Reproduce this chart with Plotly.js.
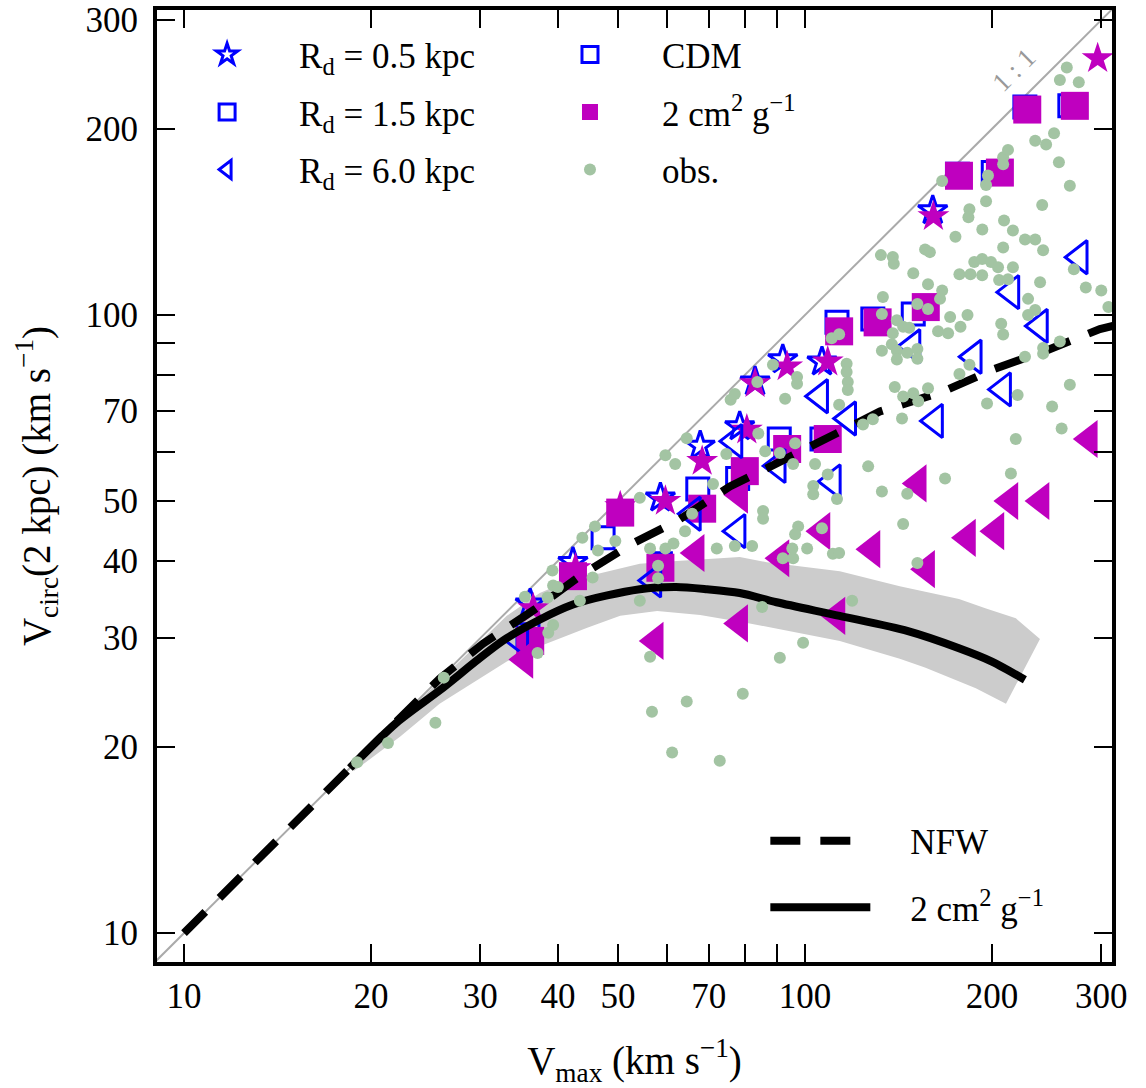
<!DOCTYPE html>
<html><head><meta charset="utf-8">
<script src="https://cdn.plot.ly/plotly-3.0.1.min.js"></script>
<style>html,body{margin:0;padding:0;background:#fff}#chart{width:1146px;height:1088px}</style>
</head><body><div id="chart"></div>
<script>
// ---- ticks ----
const tickVals = [10,20,30,40,50,70,100,200,300];
const tickText = ['10','20','30','40','50','70','100','200','300'];
const minorTickVals = [60,80,90];

// ---- simulations: CDM / SIDM (2 cm^2/g), three disc scale lengths ----
const cdm05Vmax = [36.1, 42.3, 58.5, 67.8, 78.5, 83.1, 92.1, 106.5, 160.6];
const cdm05Vc   = [34.1, 39.8, 50.6, 61.4, 66.0, 78.0, 84.7, 84.0, 147.6];
const sidm05Vmax = [36.5, 42.7, 50.4, 59.6, 68.3, 80.6, 83.1, 93.6, 108.8, 161, 296];
const sidm05Vc   = [33.5, 38.9, 49.0, 50.0, 58.0, 65.2, 77.5, 82.5, 84.0, 144.4, 260];

const cdm15Vmax = [35.8, 42.3, 47.3, 58.5, 67.2, 77.9, 90.9, 106.5, 112.6, 128.6, 149.4, 176, 201, 226, 267];
const cdm15Vc   = [30.4, 37.9, 43.6, 39.6, 52.3, 54.4, 63.0, 63.0, 97.3, 98.5, 100.4, 169, 170, 217, 218];
const sidm15Vmax = [36.1, 42.3, 50.4, 58.5, 68.3, 80.0, 93.6, 108.8, 113.5, 130.9, 156.5, 177, 206, 228, 272];
const sidm15Vc   = [29.7, 37.8, 47.9, 39.0, 48.6, 55.9, 60.7, 63.0, 94.1, 97.3, 103, 168, 170, 215, 218];

const cdm6Vmax = [34.8, 57.0, 66.0, 77.9, 77.0, 90.4, 105.8, 110.9, 117.4, 149, 162, 187, 208.5, 215, 239, 277];
const cdm6Vc   = [29.7, 37.2, 47.7, 44.7, 62.5, 57.0, 73.9, 53.8, 68.0, 89.0, 67.4, 85.6, 75.8, 108.9, 96.0, 124];
const sidm6Vmax = [35.4, 57.4, 66.8, 78.5, 78.5, 91.5, 106.5, 112.6, 128.2, 152.2, 157, 182.7, 203, 213.8, 240, 287];
const sidm6Vc   = [27.7, 29.7, 41.2, 31.7, 51.2, 40.4, 44.7, 32.6, 41.8, 53.4, 38.8, 43.6, 44.7, 50.0, 50.0, 63.0];

// ---- model curves ----
const nfwVmax = [10, 25.8, 30.3, 36.7, 43.4, 52.3, 62.4, 75.7, 91.2, 111.7, 132, 166.2, 202, 246, 298.5, 320];
const nfwVc   = [10, 25.8, 29.4, 33.4, 37.8, 42.5, 46.5, 52.8, 57.9, 64.0, 69.8, 75.1, 81.8, 87.8, 94.9, 96.5];
const sidmVmax = [18.5, 22, 25.8, 33.1, 42.3, 54.2, 62, 69.5, 78.5, 90, 113.7, 146.5, 177, 200, 226];
const sidmVc   = [18.5, 21.9, 24.7, 30.0, 34.0, 36.0, 36.3, 36.0, 35.5, 34.3, 32.6, 30.8, 28.9, 27.5, 25.7];
const bandUpperVmax = [18.5, 22.3, 25.8, 33.1, 37.4, 42.3, 46.8, 54.2, 62.2, 69.5, 78.5, 86.8, 113.8, 142.1, 177, 195.7, 218.6, 239];
const bandUpperVc   = [18.7, 22.2, 25.6, 32.6, 35.5, 37.4, 38.2, 39.6, 40.0, 40.3, 40.6, 39.8, 38.5, 36.4, 34.7, 33.5, 32.3, 29.9];
const bandLowerVmax = [18.8, 22.3, 25.8, 33.1, 37.4, 44.6, 50.4, 57.8, 67.8, 81.5, 113.8, 142.1, 156, 188.4, 210.7];
const bandLowerVc   = [18.3, 20.8, 23.5, 27.5, 29.1, 31.2, 32.6, 33.2, 32.7, 31.7, 29.7, 27.8, 26.9, 24.9, 23.5];
const oneToOne = [9, 320];
const oneLabelPos = [217, 249];

// ---- observations ----
const obsVmax = [19.0,21.3,26.2,25.4,35.4,37.1,38.5,39.2,39.3,40,39.3,38.6,43.4,43.8,45.9,46.4,45.5,49.5,54.2,54.2,
56.3,56.3,56.7,58,58,59.6,61.4,61.1,64.1,64.5,65.8,71.1,72.1,72.9,77.1,79.4,82.2,85.3,91.1,99.3,119.1,
59.6,61.8,64.5,74.7,75.9,77.1,83.8,84.1,86.3,91.1,88.8,92.9,96.4,95.7,97.1,97.1,103.8,108.8,103.1,103.1,112.6,
85.6,85.6,97.5,106.5,96.4,100.8,95.4,95.7,92.1,110.9,113.5,110.4,113.5,113.5,116.7,116.7,117.2,117.2,124,128.6,
126.4,133,146.1,143.9,151.7,133,140.6,143.9,138.5,151.7,157.8,163.8,138,133,140.6,146.1,151.7,151.7,140.6,139.5,
143.9,149.4,152.2,157.8,143.3,132.5,138.5,139,149.4,156.1,158.9,157.8,166.3,165,133.5,166.3,184,183.3,193,174.7,
195.7,197.1,195.7,208.5,208.5,212.3,234.8,244.5,256.4,251.8,264,257.3,276,267,241,209.2,216.2,226.1,234.8,208.5,
241.8,187.3,192.9,199.3,204.6,216.2,177.3,184.7,192.9,205.4,212.3,239.1,271,283.3,300,308,228.7,234.8,228.7,171.3,
182.7,178,207,208.5,147.2,170,257.3,241.8,241.8,226.1,177.3,184,267,220,196.4,250,259,218.5,214.6,168.1];
const obsVc = [18.9,20.3,25.9,21.9,35.0,28.4,34.9,38.6,36.5,36.3,31.5,30.6,34.5,43.6,45.5,41.6,37.6,43.1,50.6,34.5,
41.9,28.0,22.8,39.3,37.5,41.9,42.7,19.6,44.7,23.7,47.7,53.3,41.9,19.0,42.3,24.4,42.3,33.7,27.9,29.5,34.5,
59.3,57.4,63.2,59.6,72.9,74.5,77.9,64.3,60.2,59.8,83.1,73.2,62,57.4,79.4,77.4,57.4,55.2,52.9,51.3,50.4,
48.2,46.8,45.5,45.2,44.2,41.9,41.9,40.4,40.4,41.1,41.2,91.7,93.1,71.6,83.4,80.9,77.9,75.6,66.5,67.8,
56.9,51.8,51.4,45.9,39.7,100.4,98.1,95.7,93.4,104.2,102.3,94.1,89.7,87.5,87.5,86.9,88.1,85,84.7,76.5,
73.8,74.7,72.5,76.1,68,125,124.1,121,116.8,127.7,126.4,112.1,109.6,106.2,106.9,164.7,148.3,143.9,137.5,133.8,
152.8,168.1,162.3,180,175.4,185,191.4,188.7,176.7,196.8,251.4,240,238.1,161.9,150.6,142.2,137,132.5,132.5,128.6,
127.3,121.8,123.2,121.8,119.5,119.5,116.4,116.4,116,113.9,114.3,113,118.6,110.8,109.6,103,106.2,101.9,100,99.3,
100,95.7,96.8,93,95.4,93.4,90.6,88.4,86.6,85.6,80.3,83.1,77.1,74.2,71.9,71.1,65.5,63,55.4,54.4];

// ---- styling ----
const BLUE = '#0000ff', MAG = '#bf00bf', OBS = '#a3c4a3', FONT = 'Liberation Serif, Times New Roman, serif';
const GAP = '\u00a0\u00a0\u00a0\u00a0';

function pts(x, y, name, symbol, color, size, open, legend, extra) {
  const t = {x: x, y: y, type: 'scatter', mode: 'markers', name: name, hoverinfo: 'skip', cliponaxis: true,
    marker: {symbol: symbol, size: size, color: color, line: {color: color, width: open ? 3 : 0}}};
  if (legend) { t.legend = legend; t.legendgroup = name; } else { t.showlegend = false; }
  return Object.assign(t, extra || {});
}

const traces = [
  {x: oneToOne, y: oneToOne, type: 'scatter', mode: 'lines', line: {color: '#aaaaaa', width: 2}, showlegend: false, hoverinfo: 'skip'},
  {x: bandUpperVmax.concat(bandLowerVmax.slice().reverse()), y: bandUpperVc.concat(bandLowerVc.slice().reverse()),
   type: 'scatter', mode: 'lines', fill: 'toself', fillcolor: '#cccccc', line: {width: 0, color: '#cccccc'}, showlegend: false, hoverinfo: 'skip'},
  pts(cdm05Vmax, cdm05Vc, 'R<sub>d</sub> = 0.5 kpc', 'star-open', BLUE, 22, true, 'legend'),
  pts(sidm05Vmax, sidm05Vc, 'sidm05', 'star', MAG, 24, false, null),
  pts(cdm15Vmax, cdm15Vc, 'R<sub>d</sub> = 1.5 kpc', 'square-open', BLUE, 22, true, 'legend'),
  pts(sidm15Vmax, sidm15Vc, 'sidm15', 'square', MAG, 28, false, null),
  pts(cdm6Vmax, cdm6Vc, 'R<sub>d</sub> = 6.0 kpc', 'triangle-left-open', BLUE, 29, true, 'legend'),
  pts(sidm6Vmax, sidm6Vc, 'sidm6', 'triangle-left', MAG, 33, false, null),
  {x: nfwVmax, y: nfwVc, type: 'scatter', mode: 'lines', name: GAP + 'NFW', legend: 'legend3', legendgroup: 'nfw',
   line: {color: '#000', width: 8, dash: '30px,20px'}, hoverinfo: 'skip'},
  {x: sidmVmax, y: sidmVc, type: 'scatter', mode: 'lines', name: GAP + '2 cm<sup>2</sup> g<sup>−1</sup>', legend: 'legend3', legendgroup: 'sidmline',
   line: {color: '#000', width: 8, shape: 'spline', smoothing: 0.8}, hoverinfo: 'skip'},
  pts(obsVmax, obsVc, 'obs.', 'circle', OBS, 12, false, 'legend2', {legendrank: 3}),
  pts([null], [null], 'CDM', 'square-open', BLUE, 22, true, 'legend2', {legendrank: 1}),
  pts([null], [null], '2 cm<sup>2</sup> g<sup>−1</sup>', 'square', MAG, 28, false, 'legend2', {legendrank: 2})
];

const axisBase = {
  type: 'log', tickmode: 'array', tickvals: tickVals, ticktext: tickText, ticks: 'inside', ticklen: 18, tickwidth: 2, tickcolor: '#000',
  minor: {tickmode: 'array', tickvals: minorTickVals, ticks: 'inside', ticklen: 18, tickwidth: 2, tickcolor: '#000', showgrid: false},
  showline: true, linewidth: 4, linecolor: '#000', mirror: 'ticks', showgrid: false, zeroline: false,
  tickfont: {family: FONT, size: 35, color: '#000'}, ticklabeloverflow: 'allow'
};
const legBase = {xanchor: 'left', yanchor: 'top', bgcolor: 'rgba(0,0,0,0)', borderwidth: 0,
  font: {family: FONT, size: 35, color: '#000'}, traceorder: 'grouped', tracegroupgap: 9, itemsizing: 'trace'};

const layout = {
  width: 1146, height: 1088,
  margin: {l: 157, r: 34, t: 10, b: 126, pad: 0},
  paper_bgcolor: '#fff', plot_bgcolor: '#fff',
  font: {family: FONT, size: 35, color: '#000'},
  xaxis: Object.assign({}, axisBase, {range: [0.9565, 2.4944], ticklabelstandoff: 0,
    title: {text: 'V<sub>max</sub> (km s<sup>−1</sup>)', font: {family: FONT, size: 39}, standoff: 36}}),
  yaxis: Object.assign({}, axisBase, {range: [0.9532, 2.4935], ticklabelstandoff: 8,
    title: {text: 'V<sub>circ</sub>(2 kpc) (km s<sup>−1</sup>)', font: {family: FONT, size: 39}, standoff: 24}}),
  showlegend: true,
  legend: Object.assign({}, legBase, {x: -0.002, y: 0.984, itemwidth: 134}),
  legend2: Object.assign({}, legBase, {x: 0.378, y: 0.984, itemwidth: 134}),
  legend3: Object.assign({}, legBase, {x: 0.637, y: 0.158, itemwidth: 100, tracegroupgap: 18}),
  annotations: [{x: Math.log10(oneLabelPos[0]), y: Math.log10(oneLabelPos[1]), xref: 'x', yref: 'y',
    text: '1 : 1', showarrow: false, textangle: -45, font: {family: FONT, size: 27, color: '#999999'}}]
};

Plotly.newPlot('chart', traces, layout, {displayModeBar: false, staticPlot: true});
</script>
</body></html>
